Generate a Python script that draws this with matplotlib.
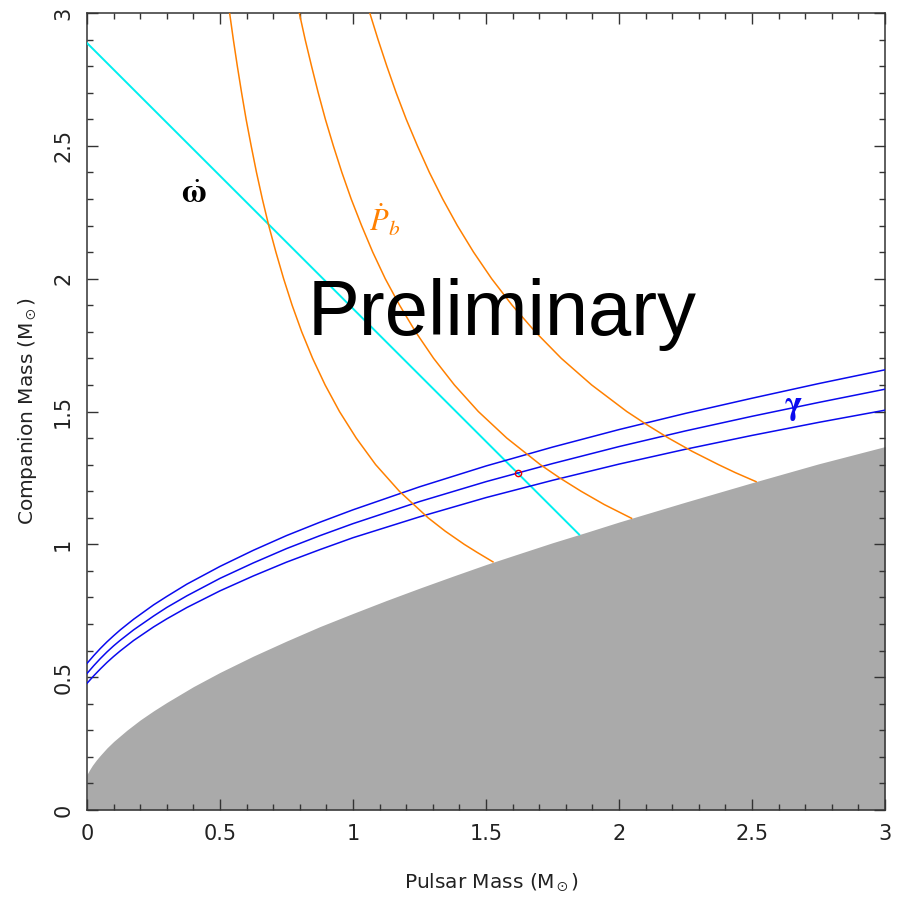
import numpy as np
import matplotlib
matplotlib.use("Agg")
import matplotlib.pyplot as plt
from matplotlib.ticker import MultipleLocator

plt.rcParams['font.family'] = ['DejaVu Sans']
plt.rcParams['mathtext.fontset'] = 'stix'

# mass-function limit (sin i = 1): pulsar mass vs companion mass
limit_mp = [0.0, 0.005, 0.01, 0.02, 0.035, 0.05, 0.075, 0.1, 0.15, 0.2, 0.25, 0.3, 0.4,
            0.5, 0.625, 0.75, 0.875, 1.0, 1.125, 1.25, 1.375, 1.5, 1.625, 1.75, 1.875,
            2.0, 2.25, 2.5, 2.75, 3.0]
limit_mc = [0.134, 0.1432, 0.152, 0.168, 0.1882, 0.206, 0.2338, 0.258, 0.3005, 0.339,
            0.3732, 0.405, 0.4645, 0.518, 0.5793, 0.636, 0.6902, 0.74, 0.7885, 0.835,
            0.880, 0.924, 0.9651, 1.006, 1.0445, 1.084, 1.159, 1.232, 1.303, 1.368]

# omega-dot (total mass) line
omdot_mp = [0.0, 1.85]
omdot_mc = [2.887, 1.037]

# gamma curves (upper, central, lower)
gamma_mp = [0.0, 0.025, 0.05, 0.075, 0.1, 0.125, 0.175, 0.25, 0.3, 0.375, 0.5, 0.625,
            0.75, 0.875, 1.0, 1.25, 1.5, 1.75, 2.0, 2.25, 2.5, 2.75, 3.0]
gamma_hi = [0.552, 0.581, 0.608, 0.633, 0.656, 0.678, 0.718, 0.772, 0.804, 0.850, 0.917,
            0.9775, 1.033, 1.083, 1.130, 1.2165, 1.295, 1.366, 1.432, 1.493, 1.550, 1.605, 1.657]
gamma_mid = [0.514, 0.543, 0.570, 0.595, 0.618, 0.639, 0.678, 0.730, 0.7625, 0.806, 0.872,
             0.930, 0.984, 1.0325, 1.078, 1.161, 1.236, 1.304, 1.368, 1.427, 1.482, 1.534, 1.584]
gamma_lo = [0.477, 0.505, 0.531, 0.5555, 0.578, 0.599, 0.638, 0.689, 0.7196, 0.762, 0.825,
            0.881, 0.933, 0.980, 1.025, 1.1035, 1.176, 1.241, 1.302, 1.358, 1.410, 1.459, 1.505]

pbdot1_mc = [3.0, 2.9, 2.8, 2.7, 2.6, 2.5, 2.4, 2.3, 2.2, 2.1, 2.0, 1.9, 1.8, 1.7, 1.6,
             1.5, 1.4, 1.3, 1.2, 1.1, 1.05, 1.0, 0.97, 0.934]
pbdot1_mp = [0.536, 0.550, 0.565, 0.581, 0.598, 0.617, 0.637, 0.659, 0.683, 0.710, 0.739,
             0.771, 0.807, 0.848, 0.895, 0.949, 1.012, 1.085, 1.174, 1.282, 1.346, 1.418,
             1.466, 1.526]
pbdot2_mc = [3.0, 2.9, 2.8, 2.7, 2.6, 2.5, 2.4, 2.3, 2.2, 2.1, 2.0, 1.9, 1.8, 1.7, 1.6,
             1.5, 1.4, 1.3, 1.25, 1.2, 1.15, 1.098]
pbdot2_mp = [0.798, 0.820, 0.844, 0.869, 0.896, 0.926, 0.958, 0.993, 1.032, 1.074, 1.121,
             1.175, 1.235, 1.303, 1.381, 1.471, 1.578, 1.704, 1.777, 1.857, 1.944, 2.047]
pbdot3_mc = [3.0, 2.9, 2.8, 2.7, 2.6, 2.5, 2.4, 2.3, 2.2, 2.1, 2.0, 1.9, 1.8, 1.7, 1.6,
             1.5, 1.45, 1.4, 1.35, 1.3, 1.27, 1.236]
pbdot3_mp = [1.063, 1.094, 1.127, 1.162, 1.200, 1.242, 1.287, 1.337, 1.392, 1.453, 1.521,
             1.598, 1.685, 1.783, 1.897, 2.029, 2.105, 2.186, 2.275, 2.374, 2.437, 2.515]

# best-fit point
best_mp = [1.620]
best_mc = [1.267]

fig = plt.figure(figsize=(9.02, 8.98), dpi=100)
ax = fig.add_axes([0.0965, 0.098, 0.8847, 0.8875])

ax.fill_between(limit_mp, 0, limit_mc, color='#aaaaaa', lw=0, zorder=1)
ax.plot(omdot_mp, omdot_mc, color='#00f0f0', lw=1.4, zorder=3)
for g in (gamma_hi, gamma_mid, gamma_lo):
    ax.plot(gamma_mp, g, color='#0a0aee', lw=1.1, zorder=3)
for mp, mc in ((pbdot1_mp, pbdot1_mc), (pbdot2_mp, pbdot2_mc), (pbdot3_mp, pbdot3_mc)):
    ax.plot(mp, mc, color='#ff8000', lw=1.1, zorder=3)
ax.plot(best_mp, best_mc, 'o', mfc='none', mec='#ee0000', ms=4.5, mew=1.0, zorder=4)

ax.text(0.40, 2.32, r'$\dot{\mathbf{\omega}}$', fontsize=24, ha='center', va='center', color='black')
ax.text(1.12, 2.22, r'$\dot{P}_b$', fontsize=22, ha='center', va='center', color='#ff8000')
ax.text(2.655, 1.52, 'γ', fontsize=24, fontfamily='STIXGeneral', fontweight='bold',
        ha='center', va='center', color='#0a0aee')
ax.text(0.831, 1.788, 'Preliminary', fontsize=56, fontfamily='Liberation Sans',
        ha='left', va='baseline', color='black')

ax.set_xlim(0, 3)
ax.set_ylim(0, 3)
for axis in (ax.xaxis, ax.yaxis):
    axis.set_major_locator(MultipleLocator(0.5))
    axis.set_minor_locator(MultipleLocator(0.1))
ax.set_xticks([0, 0.5, 1, 1.5, 2, 2.5, 3])
ax.set_xticklabels(['0', '0.5', '1', '1.5', '2', '2.5', '3'])
ax.set_yticks([0, 0.5, 1, 1.5, 2, 2.5, 3])
ax.set_yticklabels(['0', '0.5', '1', '1.5', '2', '2.5', '3'], rotation=90, va='center')
ax.tick_params(which='both', direction='in', top=True, right=True, color='#333333',
               labelsize=15, labelcolor='#222222')
ax.tick_params(which='major', length=8, width=1, pad=10)
ax.tick_params(which='minor', length=4.5, width=1)
for s in ax.spines.values():
    s.set_linewidth(1.1)
    s.set_color('#333333')

ax.set_xlabel(r'Pulsar Mass (M$_\odot$)', fontsize=14.5, color='#222222')
ax.set_ylabel(r'Companion Mass (M$_\odot$)', fontsize=14.5, color='#222222')
ax.xaxis.set_label_coords(0.507, -0.078)
ax.yaxis.set_label_coords(-0.060, 0.5)

fig.savefig('out.png', dpi=100)
